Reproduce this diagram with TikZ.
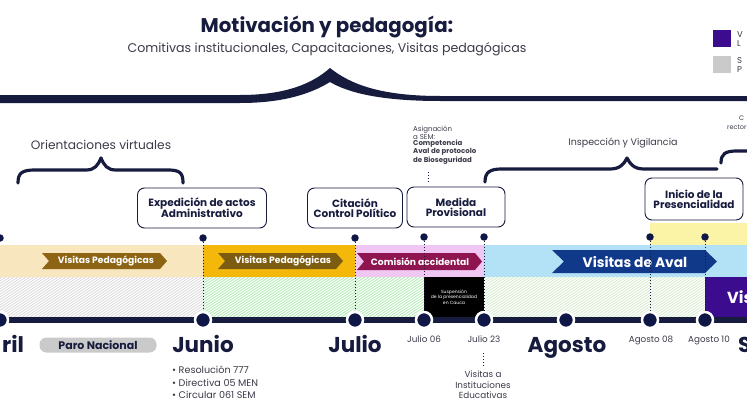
\documentclass[tikz,border=0pt]{standalone}
\usepackage{fontspec}
\setmainfont{Poppins}
\usetikzlibrary{calc}
\definecolor{navy}{HTML}{171B3D}
\definecolor{dotnavy}{HTML}{0F1747}
\definecolor{txt}{HTML}{3A3B48}
\definecolor{beige}{HTML}{F8E6BF}
\definecolor{gold}{HTML}{F4B80A}
\definecolor{pinkband}{HTML}{F0C6F2}
\definecolor{blueband}{HTML}{B3E2F6}
\definecolor{yellowband}{HTML}{FBF3A6}
\definecolor{greyhatch}{HTML}{DCDCDC}
\definecolor{greenhatch}{HTML}{B3E9B4}
\definecolor{palegreen}{HTML}{D8EBCF}
\definecolor{brown1}{HTML}{8C6413}
\definecolor{brown2}{HTML}{7C5C10}
\definecolor{maroon}{HTML}{8E1550}
\definecolor{avalblue}{HTML}{10398A}
\definecolor{purpleblk}{HTML}{3B0D8E}
\definecolor{pill}{HTML}{CACACA}
\tikzset{
  box/.style={draw=navy, line width=0.9pt, rounded corners=7pt, fill=white, align=center,
    font=\fontsize{10.5}{11}\selectfont\bfseries, text=navy, inner sep=2pt},
  tdot/.style={circle, fill=dotnavy, inner sep=0pt, minimum size=7.5pt},
  bdot/.style={circle, fill=dotnavy, draw=white, line width=2.5pt, inner sep=0pt, minimum size=16pt},
  vline/.style={navy, line width=1pt, dotted},
  month/.style={font=\fontsize{21.5}{22}\selectfont\bfseries, text=navy, inner sep=0pt, anchor=base},
  datelab/.style={font=\fontsize{8.8}{9}\selectfont, text=txt, inner sep=0pt, anchor=base},
  bantext/.style={font=\fontsize{9.2}{10}\selectfont\bfseries, text=white, inner sep=0pt},
  bracetxt/.style={font=\fontsize{12.2}{13}\selectfont, text=txt, inner sep=0pt},
  smallbrace/.style={navy, line width=3.2pt, line cap=round, line join=round},
}
\newcommand\banner[6]{%
  \fill[#6] (#1,#3) -- ({#2-#5},#3) -- (#2,{(#3+#4)/2}) -- ({#2-#5},#4) -- (#1,#4) -- ({#1+#5},{(#3+#4)/2}) -- cycle;}
\newcommand\hatchbox[5]{%
  \begin{scope}
    \clip (#1,#2) rectangle (#3,#4);
    \fill[#5] (#1,#2) rectangle (#3,#4);
    \foreach \k in {0,...,85} {\draw[white, line width=1.1pt] ({#1+\k*4-60},#4) -- ({#1+\k*4},#2);}
  \end{scope}}
\begin{document}
\begin{tikzpicture}[x=1pt,y=-1pt]
\useasboundingbox (0,0) rectangle (747,420);
\fill[white] (0,0) rectangle (747,420);
\clip (0,0) rectangle (747,420);

% title
\node[font=\fontsize{19.8}{21}\selectfont\bfseries, text=navy, inner sep=0pt] (title) at (327,27) {Motivación y pedagogía:};
\node[font=\fontsize{12.6}{13}\selectfont, text=txt, inner sep=0pt] (subtitle) at (327,49) {Comitivas institucionales, Capacitaciones, Visitas pedagógicas};

% big brace
\fill[navy] (0,95) -- (240,95) .. controls (285,95) and (312,84) .. (330,68)
  .. controls (350,84) and (380,96) .. (440,96) -- (747,96) -- (747,101) -- (440,101)
  .. controls (378,101) and (347,92) .. (330,82) .. controls (312,93) and (285,103) .. (240,103) -- (0,103) -- cycle;

% legend
\fill[purpleblk] (713,30) rectangle (731,47);
\fill[pill] (713,56) rectangle (731,73);
\node[font=\fontsize{8.5}{9}\selectfont, text=txt, anchor=west, inner sep=0pt] (lv) at (737,35) {V};
\node[font=\fontsize{8.5}{9}\selectfont, text=txt, anchor=west, inner sep=0pt] (ll) at (737,44) {L};
\node[font=\fontsize{8.5}{9}\selectfont, text=txt, anchor=west, inner sep=0pt] (ls) at (737,61) {S};
\node[font=\fontsize{8.5}{9}\selectfont, text=txt, anchor=west, inner sep=0pt] (lp) at (737,70) {P};
\node[font=\fontsize{6.5}{7}\selectfont, text=txt, anchor=west, inner sep=0pt] (rc) at (739,118) {C};
\node[font=\fontsize{6.5}{7}\selectfont, text=txt, anchor=west, inner sep=0pt] (rr) at (727,127) {rector};

% Orientaciones virtuales
\node[bracetxt] (orient) at (101,145) {Orientaciones virtuales};
\draw[smallbrace] (18,183) .. controls (18,173) and (22,170) .. (35,170) -- (86,170)
  .. controls (95,170) and (98,165) .. (101,158) .. controls (104,165) and (107,170) .. (116,170)
  -- (168,170) .. controls (180,170) and (183,173) .. (183,183);

% Inspeccion y Vigilancia
\node[font=\fontsize{9.5}{10}\selectfont, text=txt, inner sep=0pt] (insp) at (623,143) {Inspección y Vigilancia};
\draw[smallbrace] (485,182) .. controls (485,172) and (490,169) .. (502,169) -- (610,169)
  .. controls (620,169) and (624,164) .. (627,158) .. controls (630,164) and (634,169) .. (644,169) -- (717,169);
\draw[smallbrace] (721,163) .. controls (721,154) and (725,151) .. (737,151) -- (750,151);

% Asignacion text
\node[font=\fontsize{7}{6.4}\selectfont, text=txt, align=left, anchor=north west, inner sep=0pt] (asig) at (413,126)
  {Asignación\\a SEM:\\\textbf{Competencia}\\\textbf{Aval de protocolo}\\\textbf{de Bioseguridad}};

% boxes
\node[box, minimum width=129pt, minimum height=40pt] (exp) at (202,208) {Expedición de actos\\[-1pt]Administrativo};
\node[box, minimum width=95pt, minimum height=40pt] (cit) at (355,208) {Citación\\[-1pt]Control Político};
\node[box, minimum width=98pt, minimum height=40pt] (med) at (456,207) {Medida\\[-1pt]Provisional};
\node[box, minimum width=98pt, minimum height=42pt] (ini) at (694,199) {Inicio de la\\[-1pt]Presencialidad};

\coordinate (a1) at (428,172);
\coordinate (a2) at (428,184);
\draw[vline] (a1) -- (a2);

% bands
\fill[yellowband] (650,223) rectangle (747,245);
\fill[beige] (0,245) rectangle (203,277);
\fill[gold] (203,245) rectangle (355,277);
\fill[pinkband] (355,245) rectangle (484,277);
\fill[blueband] (484,245) rectangle (747,277);

\hatchbox{0}{277}{203}{317}{greyhatch}
\hatchbox{203}{277}{424}{317}{greenhatch}
\hatchbox{484}{277}{705}{317}{palegreen}
\fill[black] (424,277) rectangle (484,317);
\fill[purpleblk] (705,277) rectangle (747,317);
\node[font=\fontsize{4.5}{5.5}\selectfont, text=white, align=center, inner sep=0pt] (susp) at (454,297)
  {Suspensión\\de la presencialidad\\en Cauca};
\node[font=\fontsize{16}{17}\selectfont\bfseries, text=white, anchor=west, inner sep=0pt] (vis) at (727,297) {Vis};

% banners
\banner{42}{167}{253}{269}{7}{brown1}
\node[bantext] (b1) at (106,261) {Visitas Pedagógicas};
\banner{218}{343}{253}{269}{7}{brown2}
\node[bantext] (b2) at (283,261) {Visitas Pedagógicas};
\banner{357}{482}{253}{270}{7}{maroon}
\node[bantext] (b3) at (420,262) {Comisión accidental};
\banner{552}{717}{250}{273}{12}{avalblue}
\node[font=\fontsize{13.8}{14}\selectfont\bfseries, text=white, inner sep=0pt] (b4) at (635,262) {Visitas de Aval};

% timeline
\draw[navy, line width=6pt] (-5,320) -- (752,320);

% top dots
\node[tdot] (t0) at (0,238) {};
\node[tdot] (t1) at (203,238) {};
\node[tdot] (t2) at (355,238) {};
\node[tdot] (t3) at (424,237) {};
\node[tdot] (t4) at (484,237) {};
\node[tdot] (t5) at (650,237) {};
\node[tdot] (t6) at (705,237) {};

% bottom circles
\node[bdot] (c0) at (0,320) {};
\node[bdot] (c1) at (203,320) {};
\node[bdot] (c2) at (355,320) {};
\node[bdot] (c3) at (424,320) {};
\node[bdot] (c4) at (484,320) {};
\node[bdot] (c5) at (566,320) {};
\node[bdot] (c6) at (650,320) {};
\node[bdot] (c7) at (705,320) {};

\foreach \i in {1,...,4} {\draw[vline] (t\i) -- (c\i);}
\draw[vline] (t5) -- (c6);
\draw[vline] (t6) -- (c7);

% labels below
\node[month, anchor=base west] (abr) at (2,352) {ril};
\node[fill=pill, rounded corners=7pt, minimum width=117pt, minimum height=15pt, inner sep=0pt,
  font=\fontsize{11}{11}\selectfont\bfseries, text=navy] (paro) at (98,345) {Paro Nacional};
\node[month] (jun) at (203,352) {Junio};
\node[month] (jul) at (355,352) {Julio};
\node[datelab] (j06) at (424,342) {Julio 06};
\node[datelab] (j23) at (484,342) {Julio 23};
\node[month] (ago) at (567,352) {Agosto};
\node[datelab] (a08) at (651,342) {Agosto 08};
\node[datelab] (a10) at (709,342) {Agosto 10};
\node[month, anchor=base west] (sep) at (738,352) {S};

\node[font=\fontsize{9.6}{12.3}\selectfont, text=txt, align=left, anchor=north west, inner sep=0pt] (bul) at (172,366)
  {• Resolución 777\\• Directiva 05 MEN\\• Circular 061 SEM};

\node[font=\fontsize{8.8}{10.3}\selectfont, text=txt, align=center, anchor=north, inner sep=0pt] (visie) at (483,371)
  {Visitas a\\Instituciones\\Educativas};
\coordinate (v1) at (483,353);
\coordinate (v2) at (483,367);
\draw[vline] (v1) -- (v2);
\end{tikzpicture}
\end{document}
